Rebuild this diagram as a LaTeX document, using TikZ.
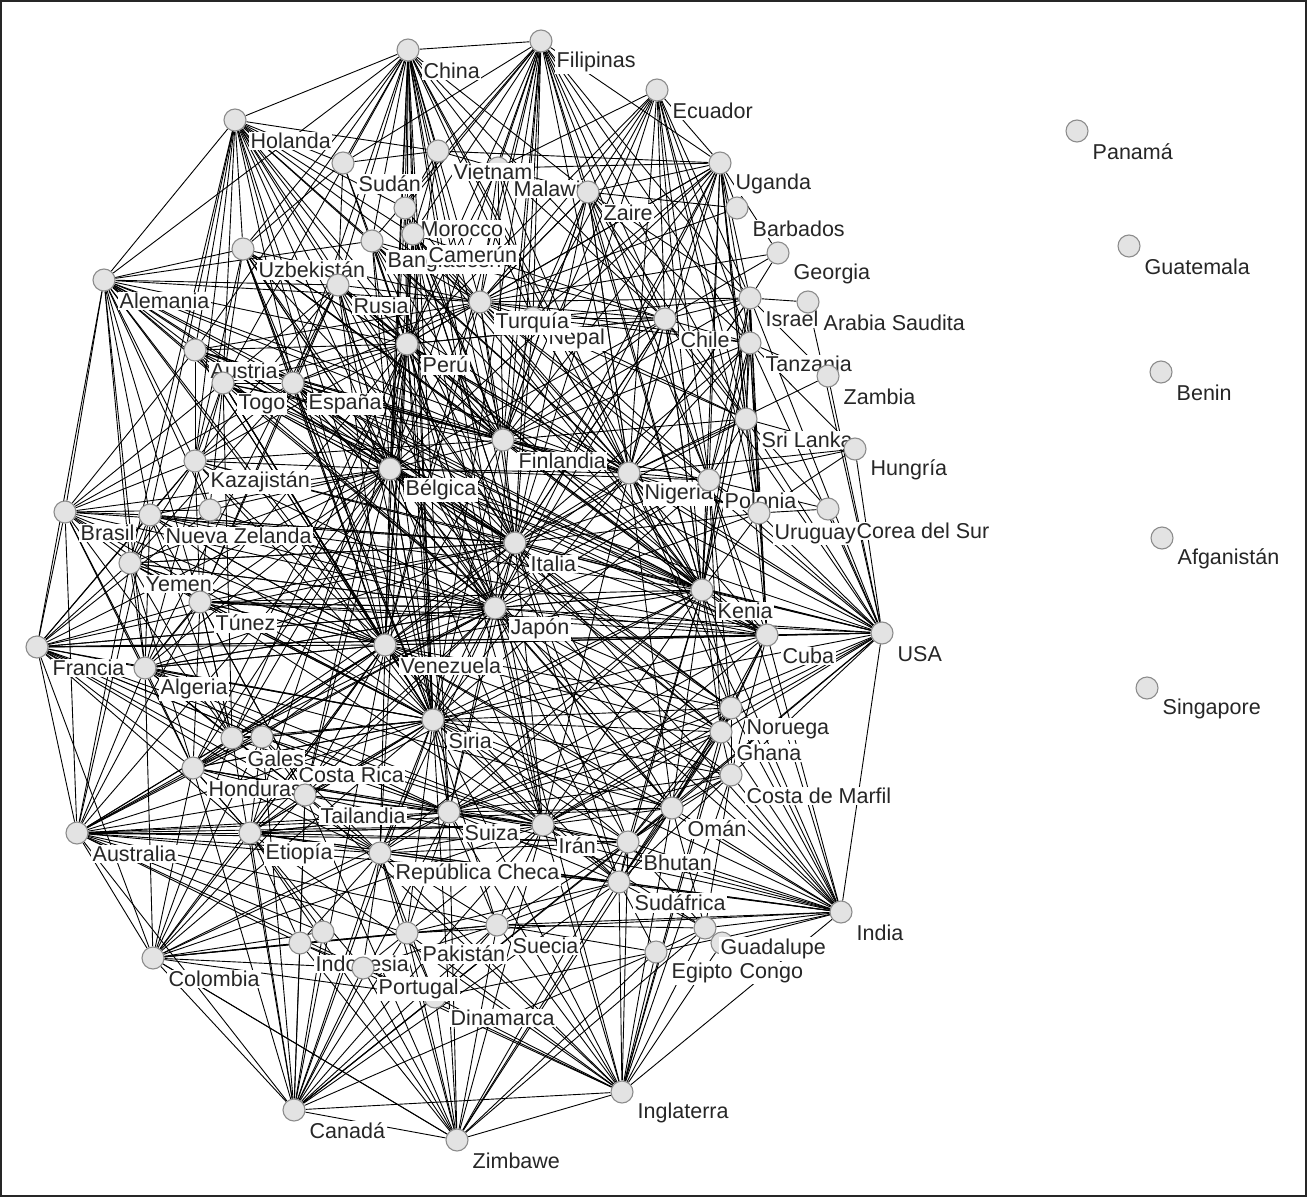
\documentclass[tikz,border=0pt]{standalone}
\usepackage{fontspec}
\setmainfont{Liberation Sans}
\pgfdeclarelayer{edges}
\pgfsetlayers{edges,main}
\tikzset{
  cnode/.style={circle, draw=black!45, fill=black!11, line width=1.1pt, minimum size=22pt, inner sep=0pt},
  clabel/.style={anchor=west, fill=white, inner sep=1.5pt, text=black!85, font=\fontsize{21.5}{23}\selectfont},
  edge/.style={line width=0.9pt, black},
  frame/.style={draw=black!85, line width=2pt}
}
\newcommand\CN[4]{\node[cnode] (#1) at (#2,#3) {}; \node[clabel] (#1-l) at ({#2+14},{#3+21}) {#4};}
\newcommand\CNL[6]{\node[cnode] (#1) at (#2,#3) {}; \node[clabel] (#1-l) at (#5,#6) {#4};}
\newcommand\CU[3]{\node[cnode] (#1) at (#2,#3) {};}
\begin{document}
\begin{tikzpicture}[x=1pt,y=-1pt]
\useasboundingbox (0,0) rectangle (1308,1198);
\draw[frame] (1,1) rectangle (1306,1196);
\CN{holanda}{235}{120}{Holanda}
\CN{china}{408}{50}{China}
\CN{filipinas}{541}{41}{Filipinas}
\CN{ecuador}{657}{90}{Ecuador}
\CN{uganda}{720}{163}{Uganda}
\CN{sudan}{343}{163}{Sudán}
\CN{malawi}{498}{168}{Malawi}
\CN{vietnam}{438}{151}{Vietnam}
\CN{zaire}{588}{192}{Zaire}
\CN{barbados}{737}{208}{Barbados}
\CN{georgia}{778}{253}{Georgia}
\CN{bangladesh}{372}{241}{Bangladesh}
\CN{morocco}{405}{208}{Morocco}
\CN{camerun}{413}{234}{Camerún}
\CN{uzbekistan}{243}{249}{Uzbekistán}
\CN{alemania}{104}{280}{Alemania}
\CN{rusia}{338}{285}{Rusia}
\CN{nepal}{533}{318}{Nepal}
\CN{turquia}{480}{302}{Turquía}
\CN{chile}{665}{319}{Chile}
\CN{israel}{750}{298}{Israel}
\CN{arabia}{808}{302}{Arabia Saudita}
\CN{tanzania}{750}{343}{Tanzania}
\CN{zambia}{828}{376}{Zambia}
\CN{peru}{407}{344}{Perú}
\CN{austria}{195}{350}{Austria}
\CN{togo}{223}{383}{Togo}
\CN{espana}{293}{383}{España}
\CN{srilanka}{746}{419}{Sri Lanka}
\CN{hungria}{855}{449}{Hungría}
\CN{finlandia}{503}{440}{Finlandia}
\CN{kazajistan}{195}{461}{Kazajistán}
\CN{belgica}{390}{469}{Bélgica}
\CN{nigeria}{629}{473}{Nigeria}
\CN{polonia}{709}{480}{Polonia}
\CN{brasil}{65}{512}{Brasil}
\CU{otro}{210}{510}
\CN{nuevazelanda}{150}{515}{Nueva Zelanda}
\CNL{corea}{828}{509}{Corea del Sur}{855}{531}
\CN{uruguay}{759}{513}{Uruguay}
\CN{italia}{515}{543}{Italia}
\CN{yemen}{130}{563}{Yemen}
\CN{kenia}{702}{590}{Kenia}
\CN{tunez}{200}{602}{Túnez}
\CN{japon}{495}{608}{Japón}
\CN{usa}{882}{633}{USA}
\CN{cuba}{767}{635}{Cuba}
\CN{venezuela}{385}{645}{Venezuela}
\CN{francia}{37}{647}{Francia}
\CN{algeria}{145}{668}{Algeria}
\CN{noruega}{731}{708}{Noruega}
\CN{ghana}{721}{732}{Ghana}
\CN{siria}{433}{720}{Siria}
\CNL{costarica}{262}{737}{Costa Rica}{297}{775}
\CN{gales}{232}{738}{Gales}
\CN{honduras}{193}{768}{Honduras}
\CN{tailandia}{305}{795}{Tailandia}
\CN{costamarfil}{731}{775}{Costa de Marfil}
\CN{oman}{672}{808}{Omán}
\CN{suiza}{449}{812}{Suiza}
\CN{iran}{543}{825}{Irán}
\CN{australia}{77}{833}{Australia}
\CN{etiopia}{250}{833}{Etiopía}
\CN{bhutan}{628}{842}{Bhutan}
\CN{repcheca}{380}{853}{República Checa}
\CN{sudafrica}{619}{882}{Sudáfrica}
\CN{india}{841}{912}{India}
\CNL{congo}{722}{943}{Congo}{738}{973}
\CN{guadalupe}{705}{928}{Guadalupe}
\CN{suecia}{497}{925}{Suecia}
\CU{otro3}{323}{932}
\CN{pakistan}{407}{933}{Pakistán}
\CN{indonesia}{300}{943}{Indonesia}
\CN{dinamarca}{435}{997}{Dinamarca}
\CN{portugal}{363}{968}{Portugal}
\CN{egipto}{656}{952}{Egipto}
\CN{colombia}{153}{958}{Colombia}
\CN{inglaterra}{622}{1092}{Inglaterra}
\CN{canada}{294}{1110}{Canadá}
\CN{zimbawe}{457}{1140}{Zimbawe}
\CN{panama}{1077}{131}{Panamá}
\CN{guatemala}{1129}{246}{Guatemala}
\CN{benin}{1161}{372}{Benin}
\CN{afganistan}{1162}{538}{Afganistán}
\CN{singapore}{1147}{688}{Singapore}
\begin{pgfonlayer}{edges}
\foreach \a/\bs in {
 china/{holanda,filipinas,sudan,vietnam,malawi,morocco,camerun,bangladesh,uzbekistan,rusia,peru,turquia,nepal,belgica,finlandia,italia,japon,venezuela,siria,espana,nigeria,chile,zaire,kenia,austria,togo,suiza,iran,alemania},
 filipinas/{vietnam,malawi,morocco,camerun,turquia,peru,nepal,zaire,chile,uganda,israel,tanzania,finlandia,nigeria,italia,kenia,japon,belgica,sudan,srilanka,polonia,bangladesh,siria,venezuela},
 ecuador/{zaire,nepal,turquia,chile,uganda,israel,tanzania,srilanka,nigeria,polonia,malawi,finlandia,kenia,uruguay,peru,italia},
 uganda/{zaire,chile,nepal,turquia,israel,tanzania,srilanka,polonia,uruguay,kenia,nigeria,barbados,vietnam,finlandia,italia,cuba,malawi,peru,belgica,japon,georgia},
 holanda/{alemania,uzbekistan,rusia,sudan,bangladesh,peru,austria,togo,espana,kazajistan,belgica,turquia,camerun,morocco,nuevazelanda,italia,finlandia,venezuela,vietnam,japon,siria,nigeria,yemen},
 alemania/{brasil,austria,togo,espana,kazajistan,nuevazelanda,otro,belgica,peru,rusia,uzbekistan,yemen,italia,japon,finlandia,venezuela,siria,turquia,nigeria,tunez,francia,kenia,bangladesh,algeria},
 brasil/{francia,nuevazelanda,yemen,tunez,algeria,kazajistan,austria,togo,otro,espana,belgica,venezuela,japon,honduras,gales,australia,italia,siria},
 francia/{australia,algeria,yemen,tunez,gales,honduras,venezuela,siria,tailandia,costarica,japon,italia,colombia,etiopia,nuevazelanda,kazajistan,cuba,kenia,suiza,repcheca,usa,belgica,otro,iran},
 australia/{colombia,algeria,gales,honduras,etiopia,tailandia,repcheca,siria,suiza,indonesia,tunez,yemen,iran,bhutan,costarica,venezuela,japon,canada,otro3,portugal,pakistan,oman,suecia,sudafrica,nuevazelanda,belgica},
 colombia/{canada,etiopia,honduras,indonesia,portugal,pakistan,repcheca,tailandia,suiza,suecia,siria,gales,otro3,zimbawe,iran,algeria,costarica,venezuela,dinamarca},
 canada/{indonesia,portugal,pakistan,dinamarca,etiopia,repcheca,suecia,tailandia,honduras,zimbawe,inglaterra,iran,sudafrica,suiza,bhutan,egipto,otro3,siria,gales,costarica,oman,venezuela},
 zimbawe/{inglaterra,dinamarca,suecia,pakistan,portugal,iran,sudafrica,bhutan,repcheca,suiza,siria,guadalupe,egipto,etiopia,tailandia,indonesia,colombia,oman},
 inglaterra/{egipto,guadalupe,congo,suecia,sudafrica,bhutan,dinamarca,iran,oman,suiza,portugal,pakistan,repcheca,india,costamarfil,siria,indonesia,etiopia,tailandia,ghana,noruega,japon},
 india/{usa,costamarfil,ghana,noruega,oman,bhutan,sudafrica,guadalupe,egipto,congo,cuba,kenia,iran,suiza,siria,repcheca,suecia,tailandia,japon,italia,nigeria,polonia,venezuela,pakistan,etiopia,belgica},
 usa/{cuba,kenia,uruguay,corea,polonia,hungria,zambia,srilanka,nigeria,italia,japon,noruega,ghana,costamarfil,finlandia,belgica,venezuela,tanzania,israel,siria,chile,peru,oman,arabia,turquia,tunez,kazajistan,suiza,iran,bhutan},
 peru/{rusia,bangladesh,camerun,morocco,turquia,belgica,finlandia,italia,japon,venezuela,siria,espana,togo,austria,kazajistan,nigeria,chile,kenia,suiza,iran,tailandia,gales,honduras,algeria,repcheca,etiopia,sudan,uzbekistan,vietnam},
 belgica/{espana,togo,kazajistan,nuevazelanda,yemen,tunez,venezuela,siria,japon,italia,finlandia,nigeria,kenia,cuba,noruega,ghana,oman,iran,suiza,tailandia,costarica,honduras,gales,algeria,turquia,rusia,uzbekistan,austria,otro,polonia},
 siria/{venezuela,japon,italia,finlandia,nigeria,kenia,cuba,noruega,ghana,costamarfil,oman,bhutan,iran,suiza,repcheca,tailandia,etiopia,costarica,gales,honduras,algeria,tunez,yemen,kazajistan,espana,togo,sudafrica,pakistan,suecia,polonia},
 italia/{japon,finlandia,nigeria,polonia,kenia,cuba,venezuela,tunez,yemen,nuevazelanda,kazajistan,togo,espana,turquia,chile,tanzania,srilanka,noruega,ghana,oman,iran,suiza,bhutan,sudafrica,uruguay,algeria,gales},
 japon/{venezuela,kenia,cuba,nigeria,polonia,uruguay,noruega,ghana,costamarfil,oman,iran,suiza,bhutan,tunez,algeria,yemen,gales,honduras,tailandia,repcheca,etiopia,kazajistan,otro,sudafrica},
 finlandia/{nigeria,polonia,chile,israel,tanzania,srilanka,turquia,nepal,zaire,kenia,venezuela,espana,togo,kazajistan,austria,uruguay,rusia,uzbekistan,camerun},
 turquia/{nepal,chile,israel,tanzania,srilanka,nigeria,polonia,kenia,espana,togo,austria,rusia,bangladesh,camerun,venezuela,zaire,georgia,barbados,uzbekistan},
 venezuela/{kenia,cuba,noruega,ghana,costamarfil,oman,iran,tunez,algeria,yemen,gales,honduras,tailandia,etiopia,repcheca,kazajistan,nuevazelanda,togo,espana,bhutan,sudafrica,polonia,nigeria},
 kenia/{cuba,uruguay,polonia,nigeria,noruega,ghana,oman,iran,bhutan,sudafrica,suiza,repcheca,tailandia,chile,srilanka,tanzania},
 nigeria/{polonia,srilanka,tanzania,chile,cuba,noruega,iran,oman,israel,zaire,uruguay,hungria,zambia},
 suiza/{iran,oman,bhutan,sudafrica,repcheca,tailandia,etiopia,noruega,ghana,costamarfil,suecia,pakistan,honduras,gales,cuba},
 iran/{bhutan,oman,sudafrica,repcheca,suecia,pakistan,tailandia,etiopia,costamarfil,noruega,ghana,cuba,guadalupe},
 tailandia/{etiopia,honduras,gales,costarica,repcheca,algeria,tunez,indonesia},
 gales/{honduras,algeria,costarica,tunez,yemen,nuevazelanda},
 espana/{togo,austria,kazajistan,rusia,uzbekistan,tunez,yemen,belgica,venezuela,italia,japon,siria,nigeria,kenia,cuba,noruega,ghana,finlandia,oman},
 kazajistan/{tunez,yemen,nuevazelanda,austria,otro},
 sudan/{uzbekistan,vietnam,rusia,bangladesh},
 vietnam/{morocco,malawi,camerun},
 rusia/{belgica,italia,japon,venezuela,siria,nigeria,kenia,cuba,finlandia,togo,kazajistan,tunez,algeria},
 bangladesh/{belgica,italia,finlandia,japon,nigeria,chile,kenia,siria},
 camerun/{belgica,italia,japon,siria,venezuela,nigeria,finlandia,chile,kenia},
 morocco/{belgica,finlandia,italia,turquia,siria},
 uzbekistan/{togo,espana,kazajistan,belgica,venezuela,italia,japon,siria,nigeria,kenia,cuba},
 austria/{togo,kazajistan,italia,japon,venezuela,siria,nigeria,kenia,finlandia},
 togo/{kazajistan,venezuela,japon,italia,siria,nigeria,kenia,cuba,tunez,algeria,gales},
 nuevazelanda/{yemen,tunez,algeria,venezuela,japon,italia,siria,kenia,cuba},
 yemen/{tunez,algeria,venezuela,japon,siria,honduras,italia},
 tunez/{algeria,venezuela,japon,siria,gales,honduras,tailandia,kenia,cuba,iran},
 algeria/{honduras,venezuela,siria,tailandia,costarica,japon,suiza,iran,oman},
 honduras/{costarica,etiopia,siria,suiza,iran,repcheca,venezuela},
 costarica/{siria,venezuela,suiza,iran,repcheca,etiopia},
 etiopia/{repcheca,suiza,siria,iran,bhutan,sudafrica,venezuela,honduras,indonesia,otro3,portugal},
 chile/{nigeria,kenia,italia,japon,belgica,peru,zaire,nepal,israel,tanzania,srilanka,polonia,georgia},
 nepal/{israel,tanzania,nigeria,kenia,italia,polonia,srilanka},
 malawi/{zaire,turquia,nepal,peru,chile,finlandia,nigeria},
 zaire/{turquia,nepal,nigeria,polonia,srilanka,kenia,finlandia,italia,israel,tanzania,barbados},
 israel/{nigeria,polonia,kenia,uruguay,cuba,georgia,tanzania,arabia,srilanka,zambia},
 tanzania/{kenia,uruguay,cuba,zambia,srilanka,hungria,polonia},
 srilanka/{hungria,polonia,uruguay,corea},
 polonia/{uruguay,kenia,cuba,noruega,ghana,hungria,corea},
 uruguay/{corea,cuba,hungria},
 cuba/{noruega,ghana,costamarfil,oman},
 noruega/{ghana,costamarfil,oman,bhutan,sudafrica},
 ghana/{costamarfil,oman,bhutan,sudafrica},
 costamarfil/{oman,bhutan,sudafrica,guadalupe},
 oman/{bhutan,sudafrica,guadalupe},
 bhutan/{sudafrica,guadalupe,suecia,repcheca},
 repcheca/{suecia,pakistan,portugal,sudafrica,indonesia,dinamarca},
 sudafrica/{guadalupe,egipto,suecia,pakistan},
 suecia/{pakistan,guadalupe,egipto,dinamarca},
 guadalupe/{egipto,congo},
 portugal/{suecia,dinamarca,indonesia},
 dinamarca/{egipto},
 pakistan/{portugal,dinamarca,indonesia}}{\foreach \b in \bs {\draw[edge] (\a) -- (\b);}}
\end{pgfonlayer}
\end{tikzpicture}
\end{document}
